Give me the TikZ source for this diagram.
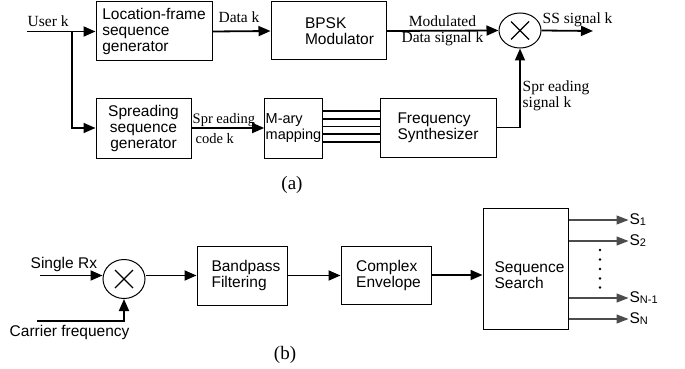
\documentclass[tikz,border=0pt]{standalone}
\usepackage{fontspec}
\setmainfont{Liberation Serif}
\setsansfont{Liberation Sans}
\usetikzlibrary{arrows.meta,shapes.geometric,calc}

\begin{document}
\begin{tikzpicture}[x=1pt,y=-1pt,
    blockstyle/.style={draw,line width=1pt,inner sep=1pt,align=left,
        font=\fontsize{15.5}{16}\sffamily},
    mixstyle/.style={draw,ellipse,line width=1pt,inner sep=0,
        minimum width=42pt,minimum height=36pt},
    sigstyle/.style={line width=1.8pt,-{Triangle[length=12pt,width=10pt]}},
    outstyle/.style={line width=1.2pt,draw=black!70,-{Triangle[length=12pt,width=9pt]}},
    lblstyle/.style={font=\fontsize{15.5}{16}\selectfont,inner sep=0.5pt},
    slblstyle/.style={font=\fontsize{15.5}{16}\sffamily,inner sep=0.5pt}]
    \useasboundingbox (0,0) rectangle (685,369);

    % transmitter
    \node[blockstyle,minimum width=116pt,minimum height=59pt] (locgen) at (154,31.5)
        {Location-frame\\sequence\\generator};
    \node[blockstyle,minimum width=115pt,minimum height=58pt] (bpsk) at (328.5,31)
        {\hspace*{22pt}BPSK\\\hspace*{22pt}Modulator};
    \node[mixstyle,minimum height=35pt] (mixa) at (520,30.5) {};
    \node[blockstyle,align=center,minimum width=95pt,minimum height=60pt] (sprgen) at (143.5,128)
        {Spreading\\sequence\\generator};
    \node[blockstyle,minimum width=57pt,minimum height=60pt,
        font=\fontsize{14.5}{16}\sffamily] (mary) at (293.5,128) {M-ary\\mapping};
    \node[blockstyle,minimum width=116pt,minimum height=59pt] (freq) at (438,127.5)
        {Frequency\\Synthesizer};

    \coordinate (userin) at (27,31.5);
    \coordinate (fork) at (72,31.5);
    \coordinate (ssout) at (593,31);

    \draw[sigstyle] (userin) -- (locgen.west);
    \node[lblstyle,anchor=base west] (userlbl) at (27,27) {User k};
    \draw[sigstyle] (fork) |- (sprgen.west);
    \draw[sigstyle] (locgen.east) -- (bpsk.west);
    \node[lblstyle,anchor=base] (datalbl) at (239,23) {Data k};
    \draw[sigstyle] (bpsk.east) -- (mixa.west);
    \node[lblstyle,anchor=base] (modlbl) at (442.5,27) {Modulated};
    \node[lblstyle,anchor=base] (modlblb) at (442.5,43) {Data signal k};
    \draw[sigstyle] (mixa.east) -- (ssout);
    \node[lblstyle,anchor=base west] (sslbl) at (542,24) {SS signal k};

    \draw[sigstyle] (sprgen.east) -- (mary.west);
    \node[lblstyle,anchor=base west,font=\fontsize{14.5}{16}\selectfont] (codelbl) at (192,123) {Spr eading};
    \node[lblstyle,anchor=base west,font=\fontsize{14.5}{16}\selectfont] (codelblb) at (195,143) {code k};

    \foreach \k in {0,...,4} {
        \pgfmathsetmacro\yy{111+7.7*\k}
        \draw[line width=1.6pt] (mary.east |- 0,\yy) -- (freq.west |- 0,\yy);
    }

    \draw[sigstyle] (freq.east) -| (mixa.south);
    \node[lblstyle,anchor=base west] (spsiglbl) at (522,92) {Spr eading};
    \node[lblstyle,anchor=base west] (spsiglblb) at (522,107) {signal k};

    \node[font=\fontsize{19}{19}\selectfont] (capa) at (292,185) {(a)};

    % receiver
    \node[mixstyle,minimum height=39pt] (mixb) at (124,279) {};
    \node[blockstyle,minimum width=90pt,minimum height=59pt] (bpf) at (242,275.5)
        {\hspace*{8pt}Bandpass\\\hspace*{8pt}Filtering};
    \node[blockstyle,minimum width=90pt,minimum height=58pt] (cenv) at (386,275)
        {\hspace*{5pt}Complex\\\hspace*{5pt}Envelope};
    \node[blockstyle,minimum width=85pt,minimum height=121pt] (seq) at (525.5,268.5)
        {\mbox{}\\[8pt]\hspace*{8pt}Sequence\\\hspace*{8pt}Search};

    \coordinate (rxin) at (40,275.5);
    \coordinate (cfin) at (37,321);

    \draw[sigstyle] (rxin) -- (rxin -| mixb.west);
    \node[slblstyle,anchor=base west] (rxlbl) at (30,268) {Single Rx};
    \draw[sigstyle] (cfin) -| (mixb.south);
    \node[slblstyle,anchor=base west] (cflbl) at (9,336) {Carrier frequency};
    \draw[sigstyle] (mixb.east |- bpf.west) -- (bpf.west);
    \draw[sigstyle] (bpf.east) -- (bpf.east -| cenv.west);
    \draw[sigstyle] (cenv.east) -- (cenv.east -| seq.west);

    \foreach \yy/\sub [count=\i] in {220/1,241/2,298/N-1,319/N}
        \draw[outstyle] (seq.east |- 0,\yy) -- ++(60,0)
            node[slblstyle,anchor=west] (sout\i) {S\raisebox{-1pt}{\fontsize{11}{11}\selectfont\sub}};
    \foreach \yy in {250,259.5,269,278.5,287.5}
        \fill (600,\yy) circle (1.3pt);

    \node[font=\fontsize{19}{19}\selectfont] (capb) at (285,355) {(b)};

    % multiplier crosses
    \foreach \m in {mixa,mixb}
        \draw[line width=1.4pt] ([shift={(-9,-9)}]\m.center) -- ([shift={(9,9)}]\m.center)
            ([shift={(-9,9)}]\m.center) -- ([shift={(9,-9)}]\m.center);
\end{tikzpicture}
\end{document}
